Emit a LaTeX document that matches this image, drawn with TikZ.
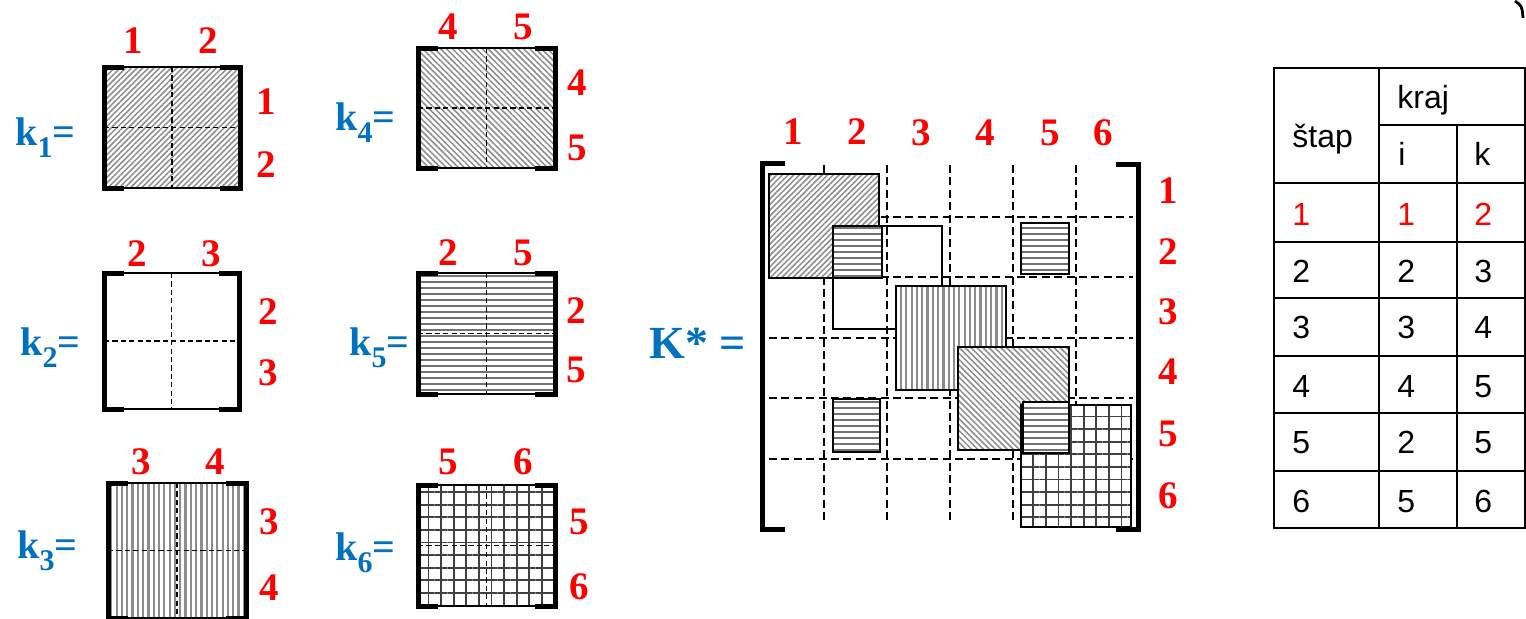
\documentclass[tikz,border=0pt]{standalone}
\usepackage{fontspec}
\setmainfont{Liberation Serif}
\newfontfamily\tabfont{Liberation Sans}
\usetikzlibrary{patterns.meta}
\definecolor{numred}{HTML}{FF0000}
\definecolor{kblue}{HTML}{0070C0}
\newcommand\kmat[5]{%
  \path[fill=white] (#2,#3) rectangle (#4,#5);
  \path[#1] (#2,#3) rectangle (#4,#5);
  \draw[thinln] (#2,#3) -- (#4,#3) (#2,#5) -- (#4,#5);
  \draw[dashln] ({(#2+#4)/2},#3) -- ({(#2+#4)/2},#5) (#2,{(#3+#5)/2}) -- (#4,{(#3+#5)/2});
  \draw[thickln] (#2+20,#3) -- (#2,#3) -- (#2,#5) -- (#2+20,#5);
  \draw[thickln] (#4-20,#3) -- (#4,#3) -- (#4,#5) -- (#4-20,#5);
}
\newcommand\prect[5]{%
  \path[fill=white] (#2,#3) rectangle (#4,#5);
  \path[#1] (#2,#3) rectangle (#4,#5);
  \draw[rectln] (#2,#3) rectangle (#4,#5);
}
\begin{document}
\begin{tikzpicture}[x=0.5pt,y=-0.5pt,
  thickln/.style={line width=2.5pt,line join=miter},
  thinln/.style={line width=0.8pt},
  dashln/.style={line width=0.85pt,dash pattern=on 2.6pt off 1.6pt},
  gridln/.style={line width=0.9pt,dash pattern=on 4pt off 2.2pt},
  rectln/.style={line width=1pt},
  tabln/.style={line width=1pt},
  pat1/.style={pattern={Lines[angle=45,distance=2pt,line width=0.75pt]},pattern color=black!45},
  pat4/.style={pattern={Lines[angle=-45,distance=2.1pt,line width=0.75pt]},pattern color=black!45},
  pat5/.style={pattern={Lines[angle=0,distance=3pt,line width=1.1pt]},pattern color=black!55},
  pat3/.style={pattern={Lines[angle=90,distance=2.65pt,line width=1.1pt]},pattern color=black!45},
  pat6/.style={pattern={Hatch[angle=0,distance=6.3pt,line width=0.9pt]},pattern color=black!75},
  nopat/.style={},
  rednum/.style={text=numred,font=\fontsize{19.5}{20}\selectfont\bfseries,inner sep=0pt},
  klab/.style={text=kblue,font=\fontsize{20}{22}\selectfont\bfseries,inner sep=0pt,anchor=base west},
  tabtxt/.style={font=\tabfont\fontsize{16}{18}\selectfont,inner sep=0pt,anchor=base west},
]
\useasboundingbox (0,0) rectangle (1526,618);

% ---------- element matrices ----------
\kmat{pat1}{104}{67}{240}{188}
\kmat{pat4}{418}{48}{555}{168}
\kmat{nopat}{104}{273}{239}{409}
\kmat{pat5}{418}{273}{555}{394}
\kmat{pat3}{108}{483}{246}{618}
\kmat{pat6}{418}{485}{555}{606}

% k labels
\newcommand\ksub[1]{\raisebox{-6pt}{\fontsize{15}{15}\selectfont #1}}
\node[klab] (lk1) at (15,145) {k\ksub{1}=};
\node[klab] (lk4) at (335,130) {k\ksub{4}=};
\node[klab] (lk2) at (20,355) {k\ksub{2}=};
\node[klab] (lk5) at (349,355) {k\ksub{5}=};
\node[klab] (lk3) at (17,558) {k\ksub{3}=};
\node[klab] (lk6) at (335,560) {k\ksub{6}=};

% red indices of element matrices
\node[rednum] (a1) at (133,41) {1};
\node[rednum] (a2) at (208,41) {2};
\node[rednum] (a3) at (266,102) {1};
\node[rednum] (a4) at (266,165) {2};

\node[rednum] (b1) at (448,27) {4};
\node[rednum] (b2) at (523,27) {5};
\node[rednum] (b3) at (577,83) {4};
\node[rednum] (b4) at (577,148) {5};

\node[rednum] (c1) at (137,254) {2};
\node[rednum] (c2) at (211,254) {3};
\node[rednum] (c3) at (268,312) {2};
\node[rednum] (c4) at (268,373) {3};

\node[rednum] (d1) at (448,253) {2};
\node[rednum] (d2) at (523,253) {5};
\node[rednum] (d3) at (576,311) {2};
\node[rednum] (d4) at (576,370) {5};

\node[rednum] (e1) at (141,462) {3};
\node[rednum] (e2) at (215,462) {4};
\node[rednum] (e3) at (269,522) {3};
\node[rednum] (e4) at (269,588) {4};

\node[rednum] (f1) at (448,462) {5};
\node[rednum] (f2) at (523,462) {6};
\node[rednum] (f3) at (579,522) {5};
\node[rednum] (f4) at (579,587) {6};

% ---------- global matrix K* ----------
\node[text=kblue,font=\fontsize{23}{24}\selectfont\bfseries,inner sep=0pt,anchor=base west] (lK) at (649,358) {K* =};

\foreach \gx in {824,887,950,1013,1076}{\draw[gridln] (\gx,165) -- (\gx,523);}
\foreach \gy in {217,277,338,398,459}{\draw[gridln] (769,\gy) -- (1133,\gy);}

\draw[thickln] (785,163) -- (762,163) -- (762,529) -- (785,529);
\draw[thickln] (1116,164) -- (1138,164) -- (1138,529) -- (1116,529);

\prect{pat1}{769}{174}{879}{278}
\draw[line width=0.8pt] (833,226) rectangle (942,329);
\prect{pat5}{833}{226}{882}{278}
\prect{pat5}{1021}{223}{1069}{274}
\prect{pat3}{896}{286}{1006}{390}
\prect{pat4}{958}{347}{1069}{450}
\prect{pat5}{833}{399}{880}{452}
\prect{pat6}{1021}{405}{1131}{527}
\prect{pat5}{1023}{402}{1069}{453}

\node[rednum] (g1) at (793,132) {1};
\node[rednum] (g2) at (857,132) {2};
\node[rednum] (g3) at (921,133) {3};
\node[rednum] (g4) at (985,133) {4};
\node[rednum] (g5) at (1050,133) {5};
\node[rednum] (g6) at (1103,133) {6};
\node[rednum] (h1) at (1168,191) {1};
\node[rednum] (h2) at (1168,252) {2};
\node[rednum] (h3) at (1168,312) {3};
\node[rednum] (h4) at (1168,372) {4};
\node[rednum] (h5) at (1168,434) {5};
\node[rednum] (h6) at (1168,496) {6};

% ---------- table ----------
\draw[tabln] (1274,68) rectangle (1525,528);
\draw[tabln] (1379,68) -- (1379,528);
\draw[tabln] (1457,125) -- (1457,528);
\draw[tabln] (1379,125) -- (1525,125);
\foreach \ty in {183,242,298,356,413,471}{\draw[tabln] (1274,\ty) -- (1525,\ty);}

\node[tabtxt] (hstap) at (1292,147) {štap};
\node[tabtxt] (hkraj) at (1397,108) {kraj};
\node[tabtxt] (hi) at (1398,165) {i};
\node[tabtxt] (hk) at (1474,165) {k};

\foreach \s/\i/\k/\by [count=\r] in {1/1/2/225,2/2/3/282,3/3/4/338,4/4/5/397,5/2/5/453,6/5/6/512}{
  \ifnum\r=1 \def\tc{numred}\else\def\tc{black}\fi
  \node[tabtxt,text=\tc] (ts\r) at (1292,\by) {\s};
  \node[tabtxt,text=\tc] (ti\r) at (1397,\by) {\i};
  \node[tabtxt,text=\tc] (tk\r) at (1474,\by) {\k};
}

% small mark at top right corner
\draw[line width=1.4pt] (1515,1) .. controls (1522,6) .. (1523,18);
\end{tikzpicture}
\end{document}
